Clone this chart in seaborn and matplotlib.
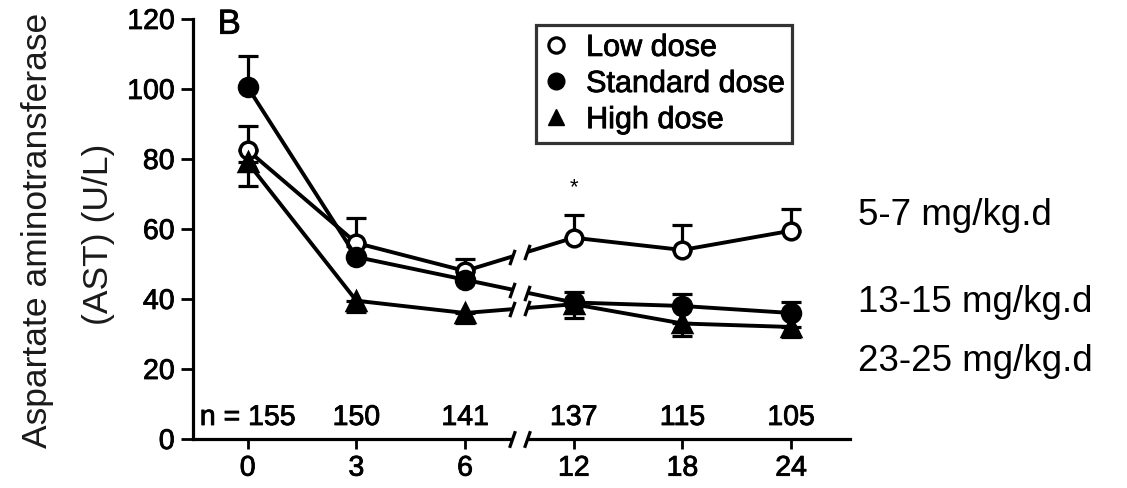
import numpy as np
import pandas as pd
import matplotlib
matplotlib.use("Agg")
import matplotlib.pyplot as plt
import matplotlib.patheffects as pe
from matplotlib.lines import Line2D
from matplotlib.patches import Rectangle
import seaborn as sns

# Follow-up months (categorical, axis broken between 6 and 12)
months = ["0", "3", "6", "12", "18", "24"]
n_patients = ["n = 155", "150", "141", "137", "115", "105"]

# Mean AST (U/L) per dosing group
low_mean = [82.5, 56, 48, 57.5, 54, 59.5]
std_mean = [100.5, 52, 45.5, 39, 38, 36]
high_mean = [79, 39.5, 36, 38.5, 33, 32]

# One-sided error bars (low/standard upward, high downward)
low_err = [6.8, 7, 3.4, 6.5, 7, 6.3]
std_err = [8.8, 3, 3, 3, 3.5, 3.2]
high_err = [6.6, 3.2, 3, 4, 3.5, 3]

group_names = ["Low dose", "Standard dose", "High dose"]
dose_ranges = ["5-7 mg/kg.d", "13-15 mg/kg.d", "23-25 mg/kg.d"]

sns.set_style("ticks")
plt.rcParams["font.family"] = ["Liberation Sans", "DejaVu Sans"]
for key in ("text.color", "axes.labelcolor", "xtick.color", "ytick.color", "axes.edgecolor"):
    plt.rcParams[key] = "black"

# slightly heavier strokes for the printed-figure lettering
heavy = [pe.withStroke(linewidth=0.6, foreground="black")]

pos = np.arange(len(months))
df = pd.DataFrame({
    "pos": np.tile(pos, 3),
    "AST": low_mean + std_mean + high_mean,
    "group": np.repeat(group_names, len(months)),
})

fig = plt.figure(figsize=(11.27, 4.89), dpi=100)
ax = fig.add_axes([0.171, 0.1002, 0.583, 0.859])

marker_map = {"Low dose": "o", "Standard dose": "o", "High dose": "^"}
face_map = {"Low dose": "white", "Standard dose": "black", "High dose": "black"}
size_map = {"Low dose": 12, "Standard dose": 13, "High dose": 13}
for g in group_names:
    sub = df[df["group"] == g]
    sns.lineplot(data=sub, x="pos", y="AST", ax=ax, color="black", lw=2.8,
                 marker=marker_map[g], markersize=size_map[g],
                 markerfacecolor=face_map[g], markeredgecolor="black",
                 markeredgewidth=2.5, legend=False, zorder=3)

eb_kw = dict(fmt="none", ecolor="black", elinewidth=2.3, capsize=7, capthick=2.3, zorder=2)
ax.errorbar(pos, low_mean, yerr=[np.zeros(6), low_err], **eb_kw)
ax.errorbar(pos, std_mean, yerr=[np.zeros(6), std_err], **eb_kw)
ax.errorbar(pos, high_mean, yerr=[high_err, np.zeros(6)], **eb_kw)

# Axis break between 6 and 12 months
gap_lo, gap_hi = 2.43, 2.57
ax.add_patch(Rectangle((gap_lo, 20), gap_hi - gap_lo, 50, facecolor="white",
                       edgecolor="none", zorder=5))
ax.add_patch(Rectangle((gap_lo, -1.5), gap_hi - gap_lo, 3, facecolor="white",
                       edgecolor="none", zorder=5, clip_on=False))
slash = [(-0.35, -1), (0.35, 1)]
for series in (low_mean, std_mean, high_mean):
    ends = np.interp([gap_lo, gap_hi], pos, series)
    ax.plot([gap_lo, gap_hi], ends, ls="none", marker=slash, markersize=11,
            markeredgewidth=2.3, color="black", zorder=6)
ax.plot([gap_lo, gap_hi], [0, 0], ls="none", marker=slash, markersize=12,
        markeredgewidth=2.3, color="black", zorder=6, clip_on=False)

ax.set_xlim(-0.506, 5.54)
ax.set_ylim(0, 120)
ax.set_xticks(pos)
ax.set_xticklabels(months)
ax.set_yticks(np.arange(0, 121, 20))
ax.set_xlabel("")
ax.set_ylabel("")
sns.despine(ax=ax)
for s in ("left", "bottom"):
    ax.spines[s].set_linewidth(2.3)
ax.tick_params(axis="y", length=9, width=2.0, labelsize=20.5, pad=4)
ax.tick_params(axis="x", length=7, width=2.0, labelsize=20.5, pad=5)
for lab in ax.get_xticklabels() + ax.get_yticklabels():
    lab.set_path_effects(heavy)

for p, lab in zip(pos, n_patients):
    ax.text(p, 6, lab, ha="center", va="center", fontsize=20.5, path_effects=heavy)
ax.text(3, 72, "*", ha="center", va="center", fontsize=16)
ax.text(-0.17, 118.5, "B", ha="center", va="center", fontsize=25, path_effects=heavy)

handles = [
    Line2D([], [], ls="none", marker="o", markersize=11, markerfacecolor="white",
           markeredgecolor="black", markeredgewidth=2.3),
    Line2D([], [], ls="none", marker="o", markersize=12, markerfacecolor="black",
           markeredgecolor="black"),
    Line2D([], [], ls="none", marker="^", markersize=12, markerfacecolor="black",
           markeredgecolor="black"),
]
leg = ax.legend(handles, group_names, loc="upper left", bbox_to_anchor=(0.522, 0.985),
                fontsize=22, frameon=True, fancybox=False, handlelength=0.8,
                handletextpad=0.6, borderpad=0.25, labelspacing=0.2,
                borderaxespad=0)
leg.get_frame().set_edgecolor("black")
leg.get_frame().set_linewidth(2.3)
for t in leg.get_texts():
    t.set_path_effects(heavy)

fig.text(0.033, 0.528, "Aspartate aminotransferase", rotation=90, ha="center",
         va="center", fontsize=25.5, color="#1a1a1a")
fig.text(0.087, 0.52, "(AST) (U/L)", rotation=90, ha="center", va="center",
         fontsize=25.5, color="#1a1a1a")

for yy, txt in zip([0.560, 0.382, 0.260], dose_ranges):
    fig.text(0.761, yy, txt, ha="left", va="center", fontsize=26.5)

fig.savefig("out.png", dpi=100)
